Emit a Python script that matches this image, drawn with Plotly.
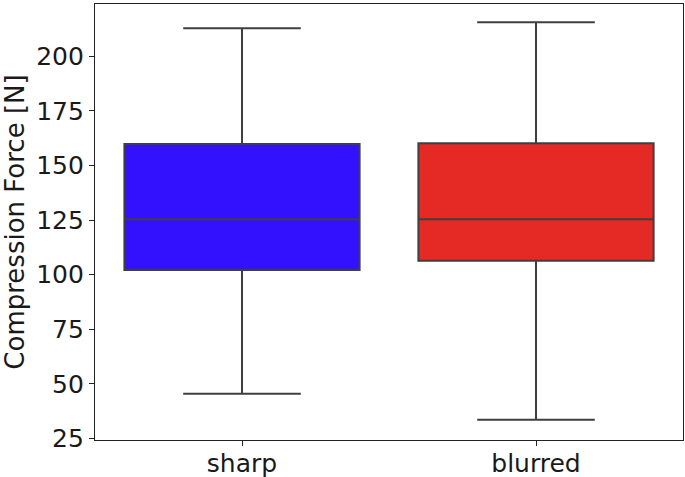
import plotly.graph_objects as go

categories = ["sharp", "blurred"]
q1 = [102.1, 106.4]
median = [125.4, 125.4]
q3 = [159.8, 160.1]
lower_whisker = [45.5, 33.6]
upper_whisker = [212.8, 215.6]
colors = ["#3311ff", "#e52a25"]
y_ticks = [25, 50, 75, 100, 125, 150, 175, 200]

fig = go.Figure()
for i, cat in enumerate(categories):
    fig.add_trace(go.Box(
        x=[cat], q1=[q1[i]], median=[median[i]], q3=[q3[i]],
        lowerfence=[lower_whisker[i]], upperfence=[upper_whisker[i]],
        fillcolor=colors[i], line=dict(color="#3f3f3f", width=2),
        width=0.8, whiskerwidth=0.5, boxpoints=False, showlegend=False,
        hoverinfo="skip",
    ))

axis_common = dict(
    showline=True, linecolor="#222222", linewidth=1.3, mirror=True,
    ticks="outside", ticklen=5, tickwidth=1.2, tickcolor="#222222",
    showgrid=False, zeroline=False, automargin=False,
    tickfont=dict(family="DejaVu Sans", size=25, color="#1a1a1a"),
)

fig.update_layout(
    width=685, height=477, autosize=False,
    margin=dict(l=95, r=2, t=4, b=37),
    paper_bgcolor="white", plot_bgcolor="white",
    xaxis=dict(**axis_common, type="category", range=[-0.5, 1.5],
               ticklabelstandoff=-4),
    yaxis=dict(**axis_common, range=[24.3, 223.9], tickvals=y_ticks,
               title=dict(text="Compression Force [N]", standoff=8,
                          font=dict(family="DejaVu Sans", size=26, color="#1a1a1a"))),
    font=dict(family="DejaVu Sans"),
)

fig.write_html(
    "out.html",
    config={"responsive": False, "displayModeBar": False},
    post_script="document.body.style.margin='0';document.body.style.padding='0';",
)
